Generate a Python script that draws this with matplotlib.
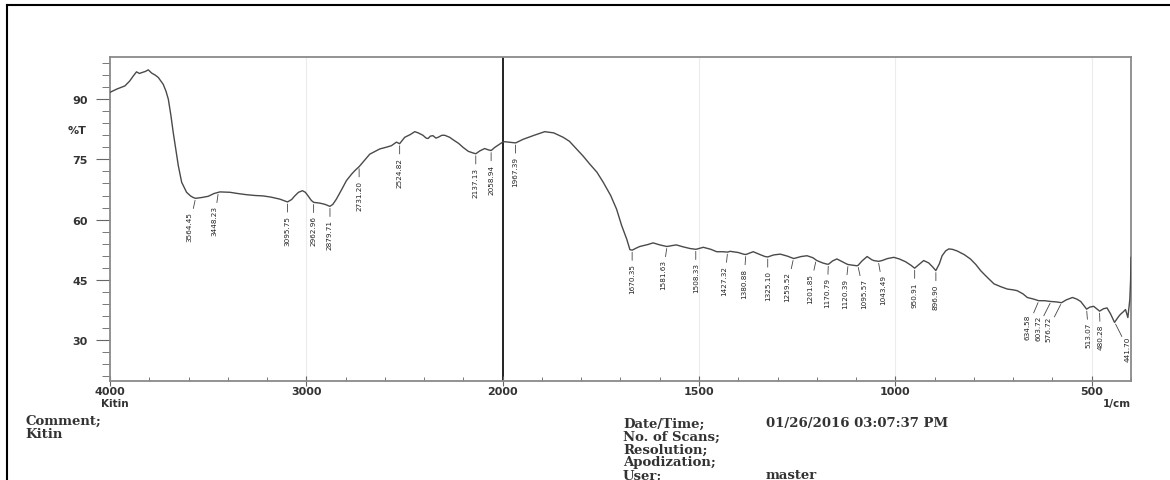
import numpy as np
import matplotlib
matplotlib.use('Agg')
import matplotlib.pyplot as plt
from matplotlib.lines import Line2D

# FTIR spectrum of Kitin
wavenumber = [4000, 3966, 3924, 3900, 3881, 3865, 3850, 3839, 3820, 3805, 3788, 3770, 3754, 3729,
              3715, 3703, 3690, 3678, 3665, 3652, 3635, 3610, 3590, 3576, 3564, 3533, 3500, 3470,
              3440, 3389, 3350, 3304, 3260, 3220, 3180, 3135, 3096, 3075, 3059, 3040, 3020, 3005,
              2991, 2975, 2963, 2931, 2905, 2880, 2865, 2847, 2820, 2796, 2770, 2753, 2731, 2700,
              2677, 2650, 2626, 2595, 2567, 2541, 2525, 2510, 2499, 2470, 2448, 2430, 2406, 2390,
              2380, 2368, 2355, 2340, 2329, 2310, 2295, 2270, 2253, 2225, 2202, 2175, 2151, 2137,
              2117, 2092, 2075, 2059, 2040, 2015, 2000, 1995, 1985, 1967, 1948, 1920, 1893, 1870,
              1846, 1830, 1812, 1795, 1778, 1760, 1744, 1725, 1710, 1697, 1684, 1676, 1670, 1660,
              1651, 1630, 1617, 1600, 1582, 1570, 1558, 1540, 1523, 1508, 1489, 1470, 1455, 1440,
              1427, 1421, 1400, 1387, 1381, 1362, 1345, 1332, 1325, 1310, 1293, 1275, 1259, 1240,
              1225, 1210, 1200, 1185, 1174, 1170, 1160, 1149, 1135, 1123, 1120, 1098, 1095, 1085,
              1072, 1060, 1055, 1043, 1034, 1020, 1004, 990, 974, 960, 951, 940, 928, 915, 905,
              897, 888, 881, 872, 864, 855, 843, 825, 809, 795, 783, 770, 749, 732, 715, 700, 690,
              675, 664, 648, 635, 620, 604, 590, 577, 565, 549, 538, 528, 513, 505, 495, 480, 470,
              461, 452, 442, 432, 427, 420, 414, 408, 403, 401, 400]
transmittance = [91.7, 92.5, 93.3, 94.5, 95.8, 96.8, 96.4, 96.6, 96.9, 97.3, 96.5, 96.0, 95.4, 93.7,
                 92.0, 90.0, 86.0, 81.7, 77.5, 73.4, 69.3, 66.8, 65.9, 65.5, 65.3, 65.5, 65.8, 66.5,
                 66.9, 66.8, 66.5, 66.2, 66.0, 65.9, 65.6, 65.1, 64.4, 65.0, 65.9, 66.8, 67.2, 66.8,
                 65.9, 64.8, 64.3, 64.1, 63.8, 63.3, 63.8, 65.1, 67.5, 69.7, 71.3, 72.2, 73.2, 75.0,
                 76.3, 77.0, 77.6, 78.0, 78.4, 79.3, 78.9, 79.8, 80.5, 81.2, 81.9, 81.6, 81.0, 80.3,
                 80.2, 80.8, 80.9, 80.3, 80.5, 81.0, 81.0, 80.5, 79.9, 79.0, 78.0, 77.0, 76.6, 76.4,
                 77.1, 77.7, 77.4, 77.2, 78.0, 78.8, 79.3, 79.4, 79.3, 79.1, 80.0, 81.0, 81.9, 81.6,
                 80.5, 79.5, 77.6, 75.8, 73.8, 71.8, 69.3, 66.0, 62.6, 58.5, 55.1, 52.5, 52.4, 52.9,
                 53.3, 53.8, 54.2, 53.7, 53.3, 53.5, 53.7, 53.2, 52.8, 52.6, 53.1, 52.6, 52.0, 52.0,
                 51.9, 52.1, 51.8, 51.4, 51.3, 52.0, 51.3, 50.8, 50.7, 51.2, 51.4, 50.9, 50.3, 50.8,
                 51.0, 50.5, 49.8, 49.2, 48.9, 48.9, 49.7, 50.2, 49.5, 48.9, 48.8, 48.5, 48.6, 49.7,
                 50.8, 50.0, 49.8, 49.6, 49.8, 50.3, 50.6, 50.2, 49.5, 48.6, 47.9, 48.8, 49.8, 49.2, 48.2,
                 47.3, 49.0, 51.0, 52.2, 52.7, 52.6, 52.2, 51.3, 50.2, 48.8, 47.3, 46.0, 44.0, 43.3, 42.7, 42.5, 42.3,
                 41.5, 40.6, 40.2, 39.8, 39.8, 39.6, 39.5, 39.3, 40.0, 40.6, 40.2, 39.6, 37.7, 38.2, 38.4, 37.2, 37.8,
                 38.0, 36.5, 34.4, 35.8, 36.4, 37.0, 37.6, 35.6, 40.1, 45.0, 50.6]

peak_wn = [3564.45, 3448.23, 3095.75, 2962.96, 2879.71, 2731.20, 2524.82, 2137.13, 2058.94, 1967.39,
           1670.35, 1581.63, 1508.33, 1427.32, 1380.88, 1325.10, 1259.52, 1201.85, 1170.79, 1120.39,
           1095.57, 1043.49, 950.91, 896.90, 634.58, 603.72, 576.72, 513.07, 480.28, 441.70]
# horizontal nudges (pixels) of the crowded labels
label_dx = [-6, -4, 0, 0, 0, 0, 0, 0, 0, 0,
            0, -4, 0, -3, -2, 0, -6, -6, -1, -3,
            6, 5, 0, 0, -11, -13, -13, 2, 1, 13]

y_major = [30, 45, 60, 75, 90]
x_major = [4000, 3000, 2000, 1500, 1000, 500]


def fwd(x):
    x = np.asarray(x, dtype=float)
    return np.where(x > 2000, 2000 + (x - 2000) / 2, x)


def inv(u):
    u = np.asarray(u, dtype=float)
    return np.where(u > 2000, 2000 + (u - 2000) * 2, u)


W, H = 1170, 481
fig = plt.figure(figsize=(W / 100, H / 100), dpi=100)
ax = fig.add_axes([110 / W, 1 - 382 / H, (1131 - 110) / W, (382 - 58) / H])
ax.set_xscale('function', functions=(fwd, inv))
ax.set_xlim(4000, 400)
ax.set_ylim(19.8, 100.5)

for v in [3000, 1500, 1000, 500]:
    ax.axvline(v, color='#ececec', lw=0.8, zorder=0)
ax.axvline(2000, color='#222222', lw=1.4, zorder=1)

ax.plot(wavenumber, transmittance, color='#4a4a4a', lw=1.0, zorder=3)

peak_t = np.interp(peak_wn, wavenumber[::-1], transmittance[::-1])
for wn, t, dx in zip(peak_wn, peak_t, label_dx):
    ax.annotate(f'{wn:.2f}', xy=(wn, t), xytext=(dx, -13), textcoords='offset pixels',
                rotation=90, ha='center', va='top', fontsize=5.2, color='#222222',
                family=['Liberation Sans Narrow', 'DejaVu Sans'],
                arrowprops=dict(arrowstyle='-', lw=0.6, color='#444444', shrinkA=0, shrinkB=1.5))

ax.set_xticks(x_major)
ax.set_xticks([3800, 3600, 3400, 3200, 2800, 2600, 2400, 2200,
               1900, 1800, 1700, 1600, 1400, 1300, 1200, 1100,
               900, 800, 700, 600, 400], minor=True)
ax.set_xticklabels([str(v) for v in x_major])
ax.set_yticks(y_major)
ax.set_yticks(np.arange(21, 100, 3), minor=True)
ax.set_yticklabels([str(v) for v in y_major])

ax.tick_params(axis='x', which='major', direction='inout', length=7, width=0.8,
               color='#666666', pad=0, labelsize=8, labelcolor='#333333')
ax.tick_params(axis='x', which='minor', direction='in', length=3, width=0.7, color='#777777')
ax.tick_params(axis='y', which='major', direction='out', length=10, width=0.8,
               color='#666666', pad=6, labelsize=8, labelcolor='#333333')
ax.tick_params(axis='y', which='minor', direction='out', length=6, width=0.7, color='#777777')
for lab in ax.get_xticklabels() + ax.get_yticklabels():
    lab.set_fontweight('bold')

for s in ax.spines.values():
    s.set_color('#8a8a8a')
    s.set_linewidth(1.3)

fig.text(86 / W, 1 - 131 / H, '%T', ha='right', va='center', fontsize=8,
         fontweight='bold', color='#333333')
fig.text(115 / W, 1 - 404 / H, 'Kitin', ha='center', va='center', fontsize=7.5,
         fontweight='bold', color='#333333')
fig.text(1131 / W, 1 - 404 / H, '1/cm', ha='right', va='center', fontsize=7.5,
         fontweight='bold', color='#333333')

serif = dict(family='DejaVu Serif', fontsize=9.5, fontweight='bold', color='#333333',
             va='center', ha='left')
fig.text(25 / W, 1 - 421 / H, 'Comment;', **serif)
fig.text(25 / W, 1 - 434 / H, 'Kitin', **serif)
rows = ['Date/Time;', 'No. of Scans;', 'Resolution;', 'Apodization;', 'User;']
for i, r in enumerate(rows):
    fig.text(623 / W, 1 - (424 + 13 * i) / H, r, **serif)
fig.text(766 / W, 1 - 424 / H, '01/26/2016 03:07:37 PM', **serif)
fig.text(766 / W, 1 - 476 / H, 'master', **serif)

# page frame
fig.add_artist(Line2D([7 / W, 7 / W], [0, 1 - 6 / H], color='black', lw=1.5))
fig.add_artist(Line2D([7 / W, 1], [1 - 6 / H, 1 - 6 / H], color='black', lw=1.5))

fig.savefig('out.png', dpi=100, facecolor='white')
